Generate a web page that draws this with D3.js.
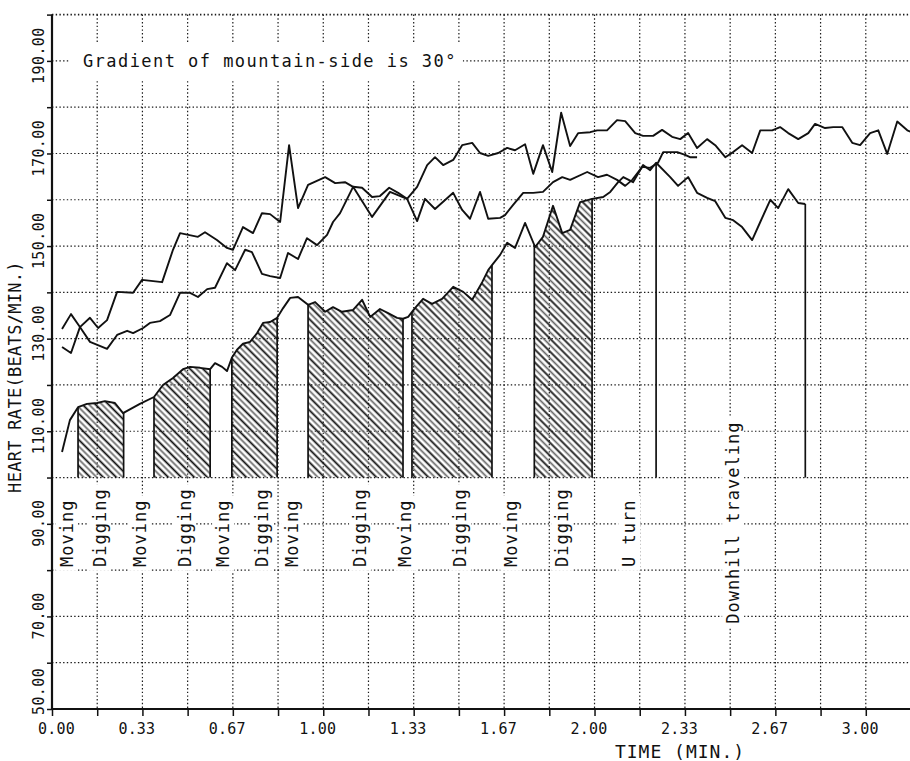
<!DOCTYPE html>
<html>
<head>
<meta charset="utf-8">
<script src="https://cdn.jsdelivr.net/npm/d3@7"></script>
<style>
  body { margin: 0; background: #fff; }
  svg text { font-family: "DejaVu Sans Mono", "Liberation Mono", monospace; fill: #111; }
</style>
</head>
<body>
<svg id="chart" width="910" height="761"></svg>
<script>
// Heart-rate traces: [time (min), heart rate (beats/min)]
const traceUpper = [
  [0.037,128.2],[0.070,126.9],[0.103,132.5],[0.140,134.5],[0.170,132.3],[0.203,134.0],[0.240,140.1],
  [0.299,139.9],[0.332,142.7],[0.406,142.2],[0.446,149.2],[0.472,152.8],[0.538,152.0],[0.564,153.0],
  [0.608,151.3],[0.645,149.6],[0.667,149.2],[0.704,154.1],[0.741,152.8],[0.774,157.1],[0.804,156.9],
  [0.841,155.2],[0.874,171.8],[0.907,158.2],[0.944,163.2],[1.007,164.9],[1.044,163.6],[1.080,163.8],
  [1.110,162.8],[1.143,162.6],[1.180,160.6],[1.209,160.8],[1.243,162.6],[1.276,161.5],[1.309,160.2],
  [1.346,162.8],[1.383,167.5],[1.412,169.2],[1.442,167.5],[1.479,168.6],[1.512,171.8],[1.549,172.3],
  [1.578,170.1],[1.608,169.5],[1.645,170.1],[1.678,171.2],[1.707,170.7],[1.744,172.0],[1.774,165.6],
  [1.810,171.8],[1.844,166.0],[1.877,178.8],[1.910,171.6],[1.940,174.4],[1.984,174.6],[2.010,175.0],
  [2.046,175.0],[2.083,177.2],[2.113,177.0],[2.150,174.4],[2.179,173.8],[2.216,173.8],[2.249,175.1],
  [2.286,173.6],[2.316,173.1],[2.345,174.4],[2.378,171.2],[2.415,173.1],[2.445,171.8],[2.482,169.2],
  [2.511,170.3],[2.544,171.8],[2.581,170.1],[2.611,175.0],[2.655,175.0],[2.684,175.7],[2.714,174.4],
  [2.751,173.1],[2.788,174.4],[2.813,176.4],[2.850,175.5],[2.880,175.7],[2.913,175.7],[2.950,172.3],
  [2.979,171.8],[3.016,174.4],[3.046,175.0],[3.079,169.9],[3.116,176.9],[3.153,175.0],[3.170,174.6]
];

const traceMiddle = [
  [0.037,132.1],[0.070,135.3],[0.103,132.5],[0.140,129.3],[0.203,127.8],[0.240,130.8],[0.277,131.7],
  [0.299,131.2],[0.336,132.3],[0.361,133.4],[0.398,133.8],[0.435,135.1],[0.472,139.9],[0.509,139.9],
  [0.538,139.0],[0.572,140.7],[0.601,141.0],[0.645,146.3],[0.675,144.8],[0.712,149.2],[0.737,148.7],
  [0.774,144.0],[0.804,143.5],[0.841,143.1],[0.870,148.5],[0.907,147.2],[0.940,151.7],[0.977,150.2],
  [1.014,152.4],[1.036,155.2],[1.062,157.1],[1.110,162.8],[1.180,156.3],[1.246,161.7],[1.309,160.2],
  [1.346,155.4],[1.375,160.2],[1.412,158.0],[1.479,161.5],[1.512,157.8],[1.541,155.9],[1.578,161.7],
  [1.608,155.9],[1.652,156.1],[1.670,156.7],[1.700,158.9],[1.737,161.5],[1.774,161.5],[1.810,161.7],
  [1.847,163.8],[1.881,164.9],[1.910,164.3],[1.973,166.0],[2.013,164.9],[2.046,165.4],[2.083,164.3],
  [2.113,163.0],[2.139,164.3],[2.176,167.1],[2.205,166.9],[2.234,168.0],[2.253,170.3],[2.305,170.3],
  [2.334,169.7],[2.352,169.2],[2.378,169.2]
];

const traceLower = [
  [0.037,105.5],[0.066,112.4],[0.096,115.2],[0.129,115.9],[0.166,116.1],[0.195,116.5],[0.232,116.1],
  [0.262,113.9],[0.277,114.4],[0.324,115.9],[0.376,117.4],[0.409,120.0],[0.446,121.5],[0.483,123.4],
  [0.509,123.9],[0.546,123.7],[0.583,123.4],[0.601,124.7],[0.627,123.9],[0.645,123.0],[0.664,126.0],
  [0.682,127.6],[0.704,128.9],[0.730,129.3],[0.756,131.2],[0.778,133.4],[0.804,133.6],[0.830,134.5],
  [0.852,136.6],[0.878,138.8],[0.907,139.0],[0.944,137.3],[0.970,137.9],[1.007,135.8],[1.036,136.8],
  [1.069,135.8],[1.110,136.2],[1.143,138.4],[1.173,134.7],[1.209,136.4],[1.239,135.5],[1.272,134.5],
  [1.294,134.3],[1.313,134.7],[1.338,136.6],[1.368,138.6],[1.401,137.5],[1.438,138.6],[1.479,141.2],
  [1.516,140.1],[1.549,138.4],[1.586,142.2],[1.608,144.8],[1.622,145.9],[1.652,148.1],[1.678,150.7],
  [1.707,149.6],[1.744,155.0],[1.781,149.8],[1.810,152.0],[1.847,158.7],[1.881,152.8],[1.910,153.5],
  [1.947,159.5],[1.991,160.2],[2.032,160.6],[2.058,161.7],[2.087,163.8],[2.106,164.9],[2.142,163.8],
  [2.179,167.5],[2.205,166.4],[2.227,168.0],[2.279,164.9],[2.308,163.0],[2.345,164.9],[2.378,161.5],
  [2.415,160.4],[2.445,159.7],[2.482,156.1],[2.511,155.6],[2.544,154.1],[2.581,151.3],[2.611,155.2],
  [2.648,160.0],[2.677,158.2],[2.714,162.3],[2.751,159.3],[2.777,159.1]
];

// Digging periods (min), shaded under the lower trace down to 100 beats/min
const digStarts = [0.096, 0.376, 0.663, 0.944, 1.327, 1.778];
const digEnds   = [0.264, 0.583, 0.830, 1.294, 1.622, 1.991];
const shadeFloor = 100;

// Event markers (U turn, end of downhill run)
const markerTimes = [2.227, 2.777];

// Phase annotations along the time axis
const phaseNames = ["Moving","Digging","Moving","Digging","Moving","Digging","Moving",
                    "Digging","Moving","Digging","Moving","Digging","U turn","Downhill traveling"];
const phaseTimes = [0.055,0.177,0.324,0.490,0.631,0.774,0.885,1.136,1.302,1.504,1.693,1.881,2.128,2.511];
const phaseBase  = [80.7,80.7,80.7,80.7,80.7,80.7,80.7,80.7,80.7,80.7,80.7,80.7,80.7,68.4];

const xTickLabels = ["0.00","0.33","0.67","1.00","1.33","1.67","2.00","2.33","2.67","3.00"];
const yTickValues = [50,70,90,110,130,150,170,190];
const yTickLabels = ["50.00","70.00","90.00","110.00","130.00","150.00","170.00","190.00"];

const W = 910, H = 761;
const svg = d3.select("#chart");
svg.append("rect").attr("width", W).attr("height", H).attr("fill", "#fff");

const x = d3.scaleLinear().domain([0, 19 / 6]).range([52, 911]);
const y = d3.scaleLinear().domain([50, 200]).range([709, 14.6]);

// hatch pattern: alternating dark and grey diagonal strokes
const defs = svg.append("defs");
const pat = defs.append("pattern")
  .attr("id", "hatch").attr("patternUnits", "userSpaceOnUse")
  .attr("width", 9.2).attr("height", 9.2)
  .attr("patternTransform", "rotate(-45)");
pat.append("line").attr("x1", 2.3).attr("x2", 2.3).attr("y1", 0).attr("y2", 9.2)
  .attr("stroke", "#111").attr("stroke-width", 1.8);
pat.append("line").attr("x1", 6.9).attr("x2", 6.9).attr("y1", 0).attr("y2", 9.2)
  .attr("stroke", "#666").attr("stroke-width", 1.7);

// dotted grid
const grid = svg.append("g").attr("stroke", "#1a1a1a").attr("stroke-width", 1.2)
  .attr("stroke-dasharray", "1.4 2.3").attr("fill", "none");
grid.selectAll("line.h").data(d3.range(60, 201, 10)).join("line")
  .attr("class", "h")
  .attr("x1", x(0)).attr("x2", W)
  .attr("y1", d => y(d)).attr("y2", d => y(d))
  .attr("stroke-width", d => d === 200 ? 1.6 : 1.2);
grid.selectAll("line.v").data(d3.range(1, 19).map(k => k / 6)).join("line")
  .attr("class", "v")
  .attr("x1", d => x(d)).attr("x2", d => x(d))
  .attr("y1", y(200)).attr("y2", y(50));

// shaded digging periods
const lowerAt = d3.scaleLinear().domain(traceLower.map(d => d[0])).range(traceLower.map(d => d[1]));
const area = d3.area().x(d => x(d[0])).y0(y(shadeFloor)).y1(d => y(d[1]));
const shades = svg.append("g");
const edges = svg.append("g").attr("stroke", "#111").attr("stroke-width", 1.7);
digStarts.forEach((a, i) => {
  const b = digEnds[i];
  const pts = [[a, lowerAt(a)], ...traceLower.filter(d => d[0] > a && d[0] < b), [b, lowerAt(b)]];
  shades.append("path").attr("d", area(pts)).attr("fill", "url(#hatch)");
  [a, b].forEach(t => {
    edges.append("line").attr("x1", x(t)).attr("x2", x(t))
      .attr("y1", y(lowerAt(t))).attr("y2", y(shadeFloor));
  });
});

// event markers
svg.append("g").attr("stroke", "#111").attr("stroke-width", 1.7)
  .selectAll("line").data(markerTimes).join("line")
  .attr("x1", d => x(d)).attr("x2", d => x(d))
  .attr("y1", d => y(lowerAt(d))).attr("y2", y(shadeFloor));

// phase labels with paper-coloured backing
const phases = svg.append("g").selectAll("g").data(phaseNames).join("g")
  .attr("transform", (d, i) => `translate(${x(phaseTimes[i])},${y(phaseBase[i])}) rotate(-90)`);
phases.append("text").text(d => d)
  .attr("font-size", 17).attr("letter-spacing", 1.0)
  .attr("dominant-baseline", "central");
phases.each(function () {
  const g = d3.select(this);
  const bb = g.select("text").node().getBBox();
  g.insert("rect", "text").attr("x", bb.x - 4).attr("y", bb.y - 1)
    .attr("width", bb.width + 8).attr("height", bb.height + 2).attr("fill", "#fff");
});

// gradient note
const note = svg.append("g");
const noteText = note.append("text")
  .attr("x", x(0.114)).attr("y", y(190) + 6)
  .attr("font-size", 17).attr("letter-spacing", 1.45)
  .text("Gradient of mountain-side is 30°");
const nb = noteText.node().getBBox();
note.insert("rect", "text").attr("x", nb.x - 14).attr("y", nb.y - 7)
  .attr("width", nb.width + 20).attr("height", nb.height + 17).attr("fill", "#fff");

// heart-rate traces
const line = d3.line().x(d => x(d[0])).y(d => y(d[1]));
svg.append("g").attr("fill", "none").attr("stroke", "#111").attr("stroke-width", 1.9)
  .attr("stroke-linejoin", "round")
  .selectAll("path").data([traceUpper, traceMiddle, traceLower]).join("path")
  .attr("d", line);

// axes
const xAxis = d3.axisBottom(x).tickValues(d3.range(0, 19).map(k => k / 6))
  .tickSize(7).tickSizeOuter(0).tickFormat("");
const gx = svg.append("g").attr("transform", `translate(0,${y(50)})`).call(xAxis);
gx.select(".domain").attr("d", `M${x(0)},0H${W}`).attr("stroke", "#111").attr("stroke-width", 2.2);
gx.selectAll(".tick line").attr("stroke", "#111").attr("stroke-width", 1.5);

const yAxis = d3.axisLeft(y).tickValues(d3.range(50, 201, 10))
  .tickSize(5).tickSizeOuter(0).tickFormat("");
const gy = svg.append("g").attr("transform", `translate(${x(0)},0)`).call(yAxis);
gy.select(".domain").attr("d", `M0,${y(200)}V${y(50)}`).attr("stroke", "#111").attr("stroke-width", 2.2);
gy.selectAll(".tick line").attr("stroke", "#111").attr("stroke-width", 1.5);

// tick labels
svg.append("g").selectAll("text").data(xTickLabels).join("text")
  .attr("x", (d, i) => x(i / 3) + (i === 0 ? -14 : -24))
  .attr("y", 734)
  .attr("font-size", 15).attr("letter-spacing", 0.2)
  .text(d => d);

svg.append("g").selectAll("text").data(yTickLabels).join("text")
  .attr("transform", (d, i) => `translate(39,${y(yTickValues[i]) + (yTickValues[i] === 50 ? 6 : 23)}) rotate(-90)`)
  .attr("dominant-baseline", "central")
  .attr("font-size", 15).attr("letter-spacing", 0.4)
  .text(d => d);

// axis titles
svg.append("text").attr("x", 680).attr("y", 758).attr("text-anchor", "middle")
  .attr("font-size", 18).attr("letter-spacing", 1.0).text("TIME (MIN.)");
svg.append("text").attr("transform", "translate(15,377) rotate(-90)")
  .attr("text-anchor", "middle").attr("dominant-baseline", "central")
  .attr("font-size", 17).attr("letter-spacing", 0.3).text("HEART RATE(BEATS/MIN.)");
</script>
</body>
</html>
